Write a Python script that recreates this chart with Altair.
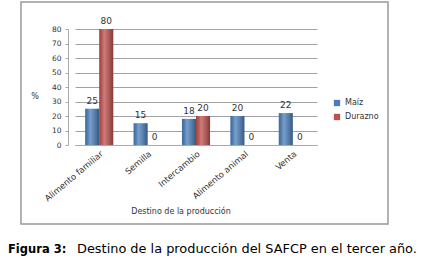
import altair as alt
import pandas as pd

categories = ["Alimento familiar", "Semilla", "Intercambio", "Alimento animal", "Venta"]
series = ["Maíz", "Durazno"]
maiz = [25, 15, 18, 20, 22]
durazno = [80, 0, 20, 0, 0]
y_ticks = [0, 10, 20, 30, 40, 50, 60, 70, 80]

rows = []
for c, m, d in zip(categories, maiz, durazno):
    rows.append({"cat": c, "serie": "Maíz", "val": m})
    rows.append({"cat": c, "serie": "Durazno", "val": d})
df = pd.DataFrame(rows)

FONT = "DejaVu Sans"
W, H = 242, 116

x_enc = alt.X("cat:N", sort=categories, title=None,
              scale=alt.Scale(paddingInner=0.42, paddingOuter=0.21),
              axis=alt.Axis(labelAngle=-40, labelFontSize=8.5, labelColor="#333",
                            labelFont=FONT, ticks=False, domainColor="#aaa",
                            labelPadding=4, labelOverlap=False))
y_enc = alt.Y("val:Q", title=None,
              scale=alt.Scale(domain=[0, 80], nice=False, zero=True),
              axis=alt.Axis(values=y_ticks, labelOverlap=False,
                            labelFontSize=7.5, labelColor="#333",
                            labelFont=FONT, gridColor="#8a8a8a", gridWidth=0.8,
                            domainColor="#aaa", tickColor="#aaa", tickSize=3,
                            offset=7, labelPadding=4))
xo = alt.XOffset("serie:N", sort=series)

base = alt.Chart(df)

bars = base.mark_bar().encode(
    x=x_enc, y=y_enc, xOffset=xo,
    color=alt.Color("serie:N", sort=series,
                    scale=alt.Scale(domain=series, range=["#4a7ebb", "#c0504d"]),
                    legend=alt.Legend(orient="none", legendX=258, legendY=70,
                                      title=None, symbolType="square", symbolSize=40,
                                      labelFontSize=8, labelFont=FONT, labelColor="#333",
                                      rowPadding=6, symbolStrokeWidth=0)),
)

shade = base.mark_bar(
    fill=alt.Gradient(gradient="linear", x1=0, x2=1, y1=0, y2=0,
                      stops=[alt.GradientStop(offset=0, color="rgba(0,0,0,0.15)"),
                             alt.GradientStop(offset=0.35, color="rgba(255,255,255,0.25)"),
                             alt.GradientStop(offset=1, color="rgba(0,0,0,0.3)")])
).encode(x=x_enc, y=y_enc, xOffset=xo)

labels = base.mark_text(baseline="bottom", dy=-3, fontSize=9, font=FONT, color="#333").encode(
    x=x_enc, y=y_enc, xOffset=xo, text="val:Q")

one = alt.Data(values=[{}])

frame = alt.Chart(one).mark_rect(fill=None, stroke="#999", strokeWidth=1.5).encode(
    x=alt.value(-54), x2=alt.value(313), y=alt.value(-27), y2=alt.value(195))

pct = alt.Chart(one).mark_text(fontSize=8, font=FONT, color="#333").encode(
    x=alt.value(-40), y=alt.value(68), text=alt.value("%"))

xtitle = alt.Chart(one).mark_text(fontSize=8, font=FONT, color="#333").encode(
    x=alt.value(106), y=alt.value(183), text=alt.value("Destino de la producción"))

cap1 = alt.Chart(one).mark_text(fontSize=11.5, font=FONT, fontWeight="bold", color="#000",
                                align="left", baseline="alphabetic").encode(
    x=alt.value(-67), y=alt.value(224), text=alt.value("Figura 3:"))

cap2 = alt.Chart(one).mark_text(fontSize=12.9, font=FONT, color="#000",
                                align="left", baseline="alphabetic").encode(
    x=alt.value(2), y=alt.value(224),
    text=alt.value("Destino de la producción del SAFCP en el tercer año."))

chart = alt.layer(bars, shade, labels, frame, pct, xtitle, cap1, cap2).properties(
    width=W, height=H,
    autosize=alt.AutoSizeParams(type="none"),
    padding={"left": 75, "top": 29, "right": 108, "bottom": 124},
    background="white",
).configure_view(stroke=None)

chart.save("out.html", embed_options={"renderer": "svg", "actions": False})
